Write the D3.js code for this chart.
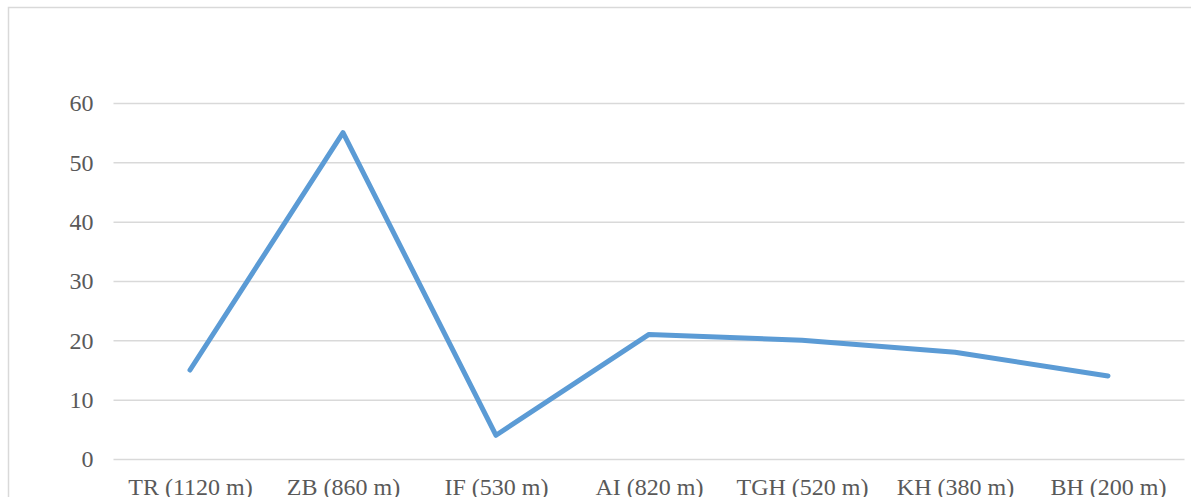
<!DOCTYPE html>
<html lang="en">
<head>
<meta charset="utf-8">
<title>Line chart</title>
<script src="https://cdn.jsdelivr.net/npm/d3@7"></script>
<style>
  body { margin: 0; background: #fff; }
  svg { display: block; }
  .tick text { font-family: "Liberation Serif", "Times New Roman", serif; font-size: 24px; fill: #595959; }
</style>
</head>
<body>
<script>
var categories = ["TR (1120 m)", "ZB (860 m)", "IF (530 m)", "AI (820 m)", "TGH (520 m)", "KH (380 m)", "BH (200 m)"];
var values = [15, 55, 4, 21, 20, 18, 14];
var yTicks = [0, 10, 20, 30, 40, 50, 60];

var w = 1191, h = 497;
var plotLeft = 113.5, plotRight = 1184.5, plotTop = 103, plotBottom = 459;

var svg = d3.select("body").append("svg")
  .attr("width", w)
  .attr("height", h);

// chart frame (bottom is cut off in the picture)
svg.append("path")
  .attr("d", "M8.5," + (h + 5) + "V7.5H" + (w + 5))
  .attr("fill", "none")
  .attr("stroke", "#d9d9d9")
  .attr("stroke-width", 1.5);

var x = d3.scalePoint().domain(categories).range([plotLeft, plotRight]).padding(0.5);
var y = d3.scaleLinear().domain([0, 60]).range([plotBottom, plotTop]);

// gridlines + y labels
var yAxis = svg.append("g")
  .attr("transform", "translate(" + plotLeft + ",0)")
  .call(d3.axisLeft(y).tickValues(yTicks).tickSize(-(plotRight - plotLeft)).tickPadding(20));
yAxis.select(".domain").remove();
yAxis.selectAll(".tick line").attr("stroke", "#d9d9d9").attr("stroke-width", 1.5);

var xAxis = svg.append("g")
  .attr("transform", "translate(0," + plotBottom + ")")
  .call(d3.axisBottom(x).tickSize(0).tickPadding(19));
xAxis.select(".domain").remove();

var line = d3.line()
  .x(function(d, i) { return x(categories[i]); })
  .y(function(d) { return y(d); });

svg.append("path")
  .datum(values)
  .attr("d", line)
  .attr("fill", "none")
  .attr("stroke", "#5b9bd5")
  .attr("stroke-width", 5)
  .attr("stroke-linejoin", "round")
  .attr("stroke-linecap", "round");
</script>
</body>
</html>
